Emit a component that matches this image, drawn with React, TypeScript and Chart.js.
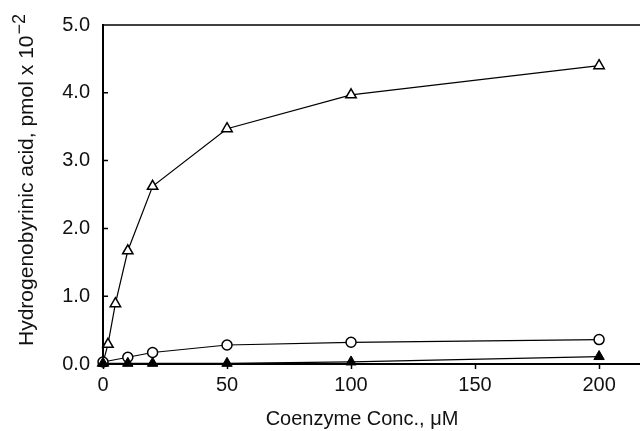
import { useEffect, useRef } from 'react';
import { Chart, registerables } from 'chart.js';

Chart.register(...registerables);

const triangleConc = [0, 2, 5, 10, 20, 50, 100, 200];
const triangleValues = [0.02, 0.29, 0.89, 1.67, 2.62, 3.47, 3.97, 4.4];
const circleConc = [0, 10, 20, 50, 100, 200];
const circleValues = [0.03, 0.1, 0.17, 0.28, 0.32, 0.36];
const filledConc = [0, 10, 20, 50, 100, 200];
const filledValues = [0.01, 0.01, 0.01, 0.01, 0.03, 0.11];
const xTickValues = [0, 50, 100, 150, 200];
const yTickValues = [0, 1, 2, 3, 4, 5];
const xTitle = 'Coenzyme Conc., μM';
const yTitle = 'Hydrogenobyrinic acid, pmol x 10';
const yTitleExp = '−2';

const FONT = '"Liberation Sans", Arial, sans-serif';

const framePlugin = {
  id: 'frame',
  afterDraw(chart: any) {
    const { ctx, chartArea } = chart;
    const { left, top, right } = chartArea;
    const y = chart.scales.y;
    ctx.save();
    ctx.strokeStyle = '#000';
    ctx.lineWidth = 1.5;
    ctx.beginPath();
    ctx.moveTo(left, top);
    ctx.lineTo(right, top);
    ctx.stroke();
    ctx.beginPath();
    for (const v of yTickValues) {
      if (v > 0 && v < 5) {
        const py = y.getPixelForValue(v);
        ctx.moveTo(left, py);
        ctx.lineTo(left + 5, py);
      }
    }
    ctx.stroke();

    ctx.fillStyle = '#111';
    ctx.font = `20px ${FONT}`;
    ctx.textAlign = 'center';
    ctx.textBaseline = 'alphabetic';
    ctx.fillText(xTitle, 362, 425);

    ctx.translate(33, 346);
    ctx.rotate(-Math.PI / 2);
    ctx.textAlign = 'left';
    ctx.font = `21px ${FONT}`;
    ctx.fillText(yTitle, 0, 0);
    const w = ctx.measureText(yTitle).width;
    ctx.font = `18px ${FONT}`;
    ctx.fillText(yTitleExp, w + 1, -8);
    ctx.restore();
  },
};

export default function App() {
  const ref = useRef<HTMLCanvasElement | null>(null);

  useEffect(() => {
    if (!ref.current) return;
    Chart.defaults.font.family = FONT;
    const chart = new Chart(ref.current, {
      type: 'line',
      data: {
        datasets: [
          {
            data: filledConc.map((x, i) => ({ x, y: filledValues[i] })),
            borderColor: '#000',
            borderWidth: 1.2,
            pointStyle: 'triangle',
            pointRadius: 6,
            pointBackgroundColor: '#000',
            pointBorderColor: '#000',
            pointBorderWidth: 1,
            clip: false,
          },
          {
            data: circleConc.map((x, i) => ({ x, y: circleValues[i] })),
            borderColor: '#000',
            borderWidth: 1.2,
            pointStyle: 'circle',
            pointRadius: 5,
            pointBackgroundColor: '#fff',
            pointBorderColor: '#000',
            pointBorderWidth: 1.5,
            clip: false,
          },
          {
            data: triangleConc.map((x, i) => ({ x, y: triangleValues[i] })),
            borderColor: '#000',
            borderWidth: 1.2,
            pointStyle: 'triangle',
            pointRadius: 6,
            pointBackgroundColor: '#fff',
            pointBorderColor: '#000',
            pointBorderWidth: 1.5,
            clip: false,
          },
        ],
      } as any,
      options: {
        animation: false,
        responsive: false,
        layout: { autoPadding: false, padding: { top: 20, left: 0, right: 0, bottom: 0 } },
        plugins: { legend: { display: false }, tooltip: { enabled: false } },
        scales: {
          x: {
            type: 'linear',
            min: 0,
            max: 216.5,
            afterBuildTicks: (s: any) => {
              s.ticks = xTickValues.map((v) => ({ value: v }));
            },
            afterFit: (s: any) => {
              s.height = 67;
              s.paddingRight = 0;
              s.paddingLeft = 0;
            },
            ticks: {
              font: { size: 20 },
              color: '#111',
              padding: 4,
              maxRotation: 0,
              autoSkip: false,
              callback: (v: any) => String(v),
            },
            grid: {
              drawOnChartArea: false,
              drawTicks: true,
              tickLength: 5,
              tickColor: '#000',
              tickWidth: 1.5,
            },
            border: { display: true, color: '#000', width: 2 },
          },
          y: {
            type: 'linear',
            min: 0,
            max: 5,
            afterBuildTicks: (s: any) => {
              s.ticks = yTickValues.map((v) => ({ value: v }));
            },
            afterFit: (s: any) => {
              s.width = 103;
            },
            ticks: {
              font: { size: 20 },
              color: '#111',
              padding: 13,
              callback: (v: any) => Number(v).toFixed(1),
            },
            grid: { drawOnChartArea: false, drawTicks: false },
            border: { display: true, color: '#000', width: 2 },
          },
        },
      } as any,
      plugins: [framePlugin],
    });
    return () => chart.destroy();
  }, []);

  return (
    <div style={{ position: 'absolute', left: 0, top: 0, width: 640, height: 431, background: '#fff' }}>
      <canvas ref={ref} width={640} height={431} />
    </div>
  );
}
